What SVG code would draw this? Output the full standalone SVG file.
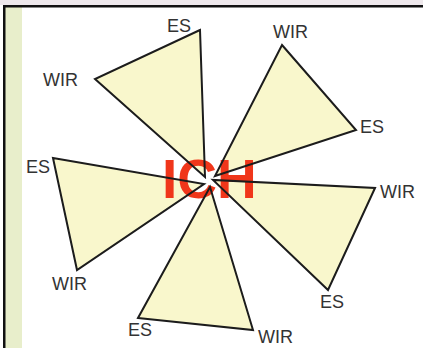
<svg xmlns="http://www.w3.org/2000/svg" xmlns:xlink="http://www.w3.org/1999/xlink" width="423" height="348" viewBox="0 0 423 348">
<style>
.fill{fill:#f9f7cc;stroke:none}
.edge{fill:none;stroke:#1c1c1c;stroke-width:2;stroke-linejoin:miter}
.lbl{font-family:"Liberation Sans",Arial,sans-serif;font-size:18px;fill:#333333}
.ich{font-family:"Liberation Sans",Arial,sans-serif;font-size:55px;font-weight:bold;fill:#f0361a}
</style>
<defs>
<polygon id="p1" points="200,30 95,79 205,177"/>
<polygon id="p2" points="282,45 356,130 215,176"/>
<polygon id="p3" points="375,188 328,290 213,180"/>
<polygon id="p4" points="138,318 253,330 210,187"/>
<polygon id="p5" points="53,158 77,270 204,184"/>
</defs>
<rect x="0" y="0" width="423" height="348" fill="#ffffff"/>
<rect x="0" y="0" width="423" height="5" fill="#eee8ec"/>
<rect x="5" y="7" width="17" height="341" fill="#e8eecb"/>
<rect x="3" y="5" width="420" height="2.5" fill="#111"/>
<rect x="3" y="5" width="2.5" height="343" fill="#111"/>
<g id="node-t1"><use xlink:href="#p1" class="fill"/><text class="lbl" x="167" y="32">ES</text><text class="lbl" x="43" y="86">WIR</text></g>
<g id="node-t2"><use xlink:href="#p2" class="fill"/><text class="lbl" x="273" y="38">WIR</text><text class="lbl" x="360" y="133">ES</text></g>
<g id="node-t3"><use xlink:href="#p3" class="fill"/><text class="lbl" x="380" y="198">WIR</text><text class="lbl" x="320" y="308">ES</text></g>
<g id="node-t4"><use xlink:href="#p4" class="fill"/><text class="lbl" x="128" y="336">ES</text><text class="lbl" x="258" y="343">WIR</text></g>
<g id="node-t5"><use xlink:href="#p5" class="fill"/><text class="lbl" x="26" y="173">ES</text><text class="lbl" x="52" y="290">WIR</text></g>
<g id="node-ich"><text class="ich" x="162" y="198">ICH</text></g>
<g id="connectors">
<use xlink:href="#p1" class="edge"/>
<use xlink:href="#p2" class="edge"/>
<use xlink:href="#p3" class="edge"/>
<use xlink:href="#p4" class="edge"/>
<use xlink:href="#p5" class="edge"/>
</g>
</svg>
